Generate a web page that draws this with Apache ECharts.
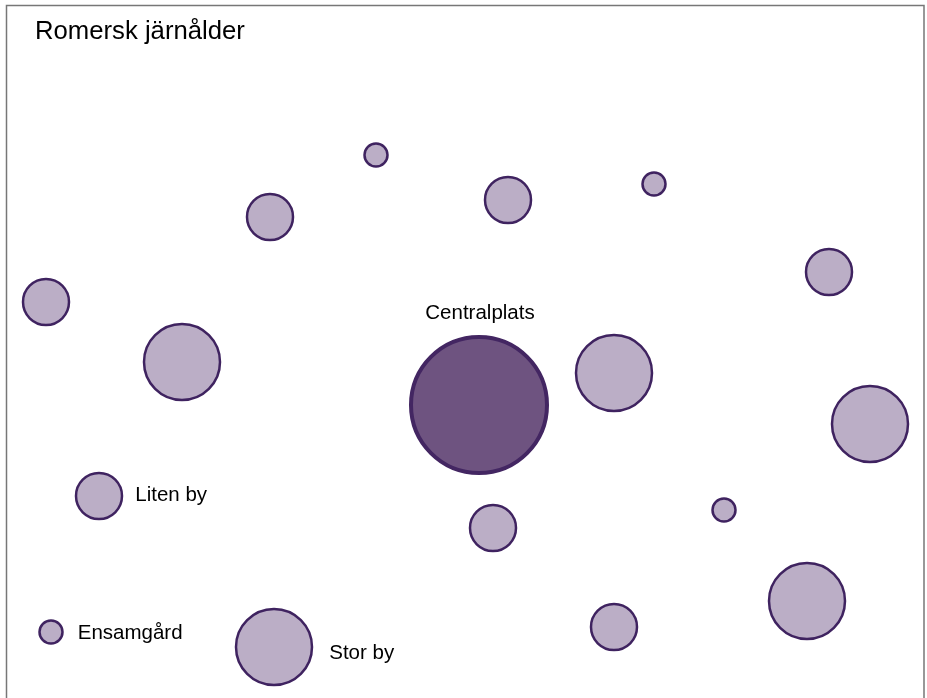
<!DOCTYPE html>
<html>
<head>
<meta charset="utf-8">
<script src="https://cdn.jsdelivr.net/npm/echarts@6/dist/echarts.min.js"></script>
<style>
html,body{margin:0;padding:0;background:#fff;}
#main{width:927px;height:698px;}
</style>
</head>
<body>
<div id="main"></div>
<script>
// Site positions (arbitrary map units) and type
const xs    = [376, 270, 508, 654, 829,  46, 182, 479, 614, 870,  99, 493, 724, 807, 614,  51, 274];
const ys    = [155, 217, 200, 184, 272, 302, 362, 405, 373, 424, 496, 528, 510, 601, 627, 632, 647];
const types = ['Ensamgård','Liten by','Liten by','Ensamgård','Liten by','Liten by','Stor by','Centralplats',
               'Stor by','Stor by','Liten by','Liten by','Ensamgård','Stor by','Liten by','Ensamgård','Stor by'];
// Which points carry a text label
const labelled = [10, 15, 16, 7];
const categories = ['Ensamgård','Liten by','Stor by','Centralplats'];
const titleText = 'Romersk järnålder';

const sizeOf = {'Ensamgård':23,'Liten by':46,'Stor by':76,'Centralplats':136};
const FONT = '"Liberation Sans", Arial, sans-serif';

const data = xs.map((x,i)=>{
  const t = types[i];
  const item = {value:[x, ys[i]], symbolSize:sizeOf[t]};
  if (t === 'Centralplats') {
    item.itemStyle = {color:'#6e5380', borderColor:'#432662', borderWidth:4};
  }
  if (labelled.includes(i)) {
    const lab = {show:true, formatter:t, color:'#000', fontSize:20.5, fontFamily:FONT};
    if (t === 'Centralplats') { lab.position = 'top'; lab.distance = 11; lab.offset = [1,0]; }
    else if (t === 'Stor by') { lab.position = 'right'; lab.distance = 16; lab.offset = [0,6]; }
    else if (t === 'Ensamgård') { lab.position = 'right'; lab.distance = 14; lab.offset = [0,1]; }
    else { lab.position = 'right'; lab.distance = 12; lab.offset = [0,-1]; }
    item.label = lab;
  }
  return item;
});

const chart = echarts.init(document.getElementById('main'), null, {renderer:'canvas'});
chart.setOption({
  animation:false,
  backgroundColor:'#fff',
  title:{text:titleText, left:35, top:19, padding:0,
         textStyle:{fontFamily:FONT, fontSize:25.7, fontWeight:'normal', color:'#000'}},
  grid:{left:0, right:0, top:0, bottom:0},
  xAxis:{type:'value', min:0, max:927, show:false},
  yAxis:{type:'value', min:0, max:698, inverse:true, show:false},
  graphic:[{type:'rect', shape:{x:6.5, y:5.5, width:917.5, height:720},
            style:{fill:null, stroke:'#777', lineWidth:1.5}, silent:true, z:-1}],
  series:[{
    type:'scatter',
    data:data,
    symbol:'circle',
    itemStyle:{color:'#bbaec6', borderColor:'#3f2360', borderWidth:2.5, opacity:1},
    emphasis:{disabled:true}
  }]
});
</script>
</body>
</html>
